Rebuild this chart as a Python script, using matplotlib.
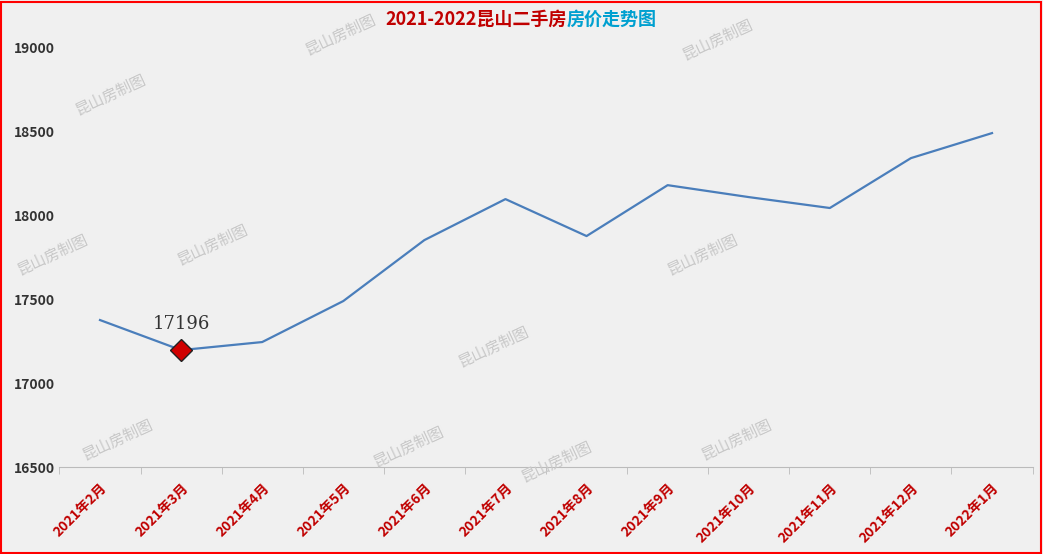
import matplotlib
matplotlib.use("Agg")
import matplotlib.pyplot as plt
from matplotlib.patches import Rectangle

plt.rcParams['font.family'] = ['Noto Sans CJK SC', 'DejaVu Sans']

months = ["2021年2月","2021年3月","2021年4月","2021年5月","2021年6月","2021年7月",
          "2021年8月","2021年9月","2021年10月","2021年11月","2021年12月","2022年1月"]
prices = [17375, 17196, 17244, 17488, 17851, 18095, 17875, 18178, 18107, 18042, 18339, 18488]
yticks = [16500, 17000, 17500, 18000, 18500, 19000]

fig = plt.figure(figsize=(10.43, 5.54), dpi=100)
fig.patch.set_facecolor('#f0f0f0')
ax = fig.add_axes([0.057, 0.157, 0.933, 0.758])
ax.set_facecolor('#f0f0f0')
x = list(range(len(months)))
ax.plot(x, prices, color='#4a7ebb', lw=1.6)
ax.plot(x[1], prices[1], marker='D', ms=11, color='#d00000', markeredgecolor='#222222', mew=1)
ax.annotate(str(prices[1]), (x[1], prices[1]), xytext=(0, 15), textcoords='offset points',
            ha='center', fontsize=13, color='#333333', family='DejaVu Serif')
ax.set_xlim(-0.5, len(months) - 0.5)
ax.set_ylim(16500, 19000)
ax.set_yticks(yticks)
ax.set_yticklabels([str(v) for v in yticks], fontsize=10, fontweight='bold', color='#333333')
ax.set_xticks(x)
ax.set_xticklabels(months, rotation=45, ha='right', rotation_mode='anchor',
                   fontsize=10, fontweight='bold', color='#c00000')
ax.set_xticks([i - 0.5 for i in range(len(months) + 1)], minor=True)
ax.tick_params(axis='x', which='major', length=0, pad=10)
ax.tick_params(axis='x', which='minor', length=5, color='#bbbbbb')
ax.tick_params(axis='y', length=0)
for s in ['top', 'right', 'left']:
    ax.spines[s].set_visible(False)
ax.spines['bottom'].set_color('#bbbbbb')

fig.text(0.543, 0.966, "2021-2022昆山二手房", color='#c00000', fontsize=13, fontweight='bold', ha='right', va='center')
fig.text(0.543, 0.966, "房价走势图", color='#00a0d0', fontsize=13, fontweight='bold', ha='left', va='center')

wm = [(340, 35), (717, 40), (110, 95), (52, 255), (212, 245), (702, 255), (493, 347),
      (117, 440), (408, 447), (556, 462), (736, 440)]
for px, py in wm:
    fig.text(px / 1043, 1 - py / 554, "昆山房制图", color='#c8c8c8', fontsize=11,
             rotation=25, ha='center', va='center')

fig.add_artist(Rectangle((0.001, 0.002), 0.997, 0.995, transform=fig.transFigure,
                         fill=False, edgecolor='red', lw=1.5))
fig.savefig('out.png', dpi=100, facecolor=fig.get_facecolor())
